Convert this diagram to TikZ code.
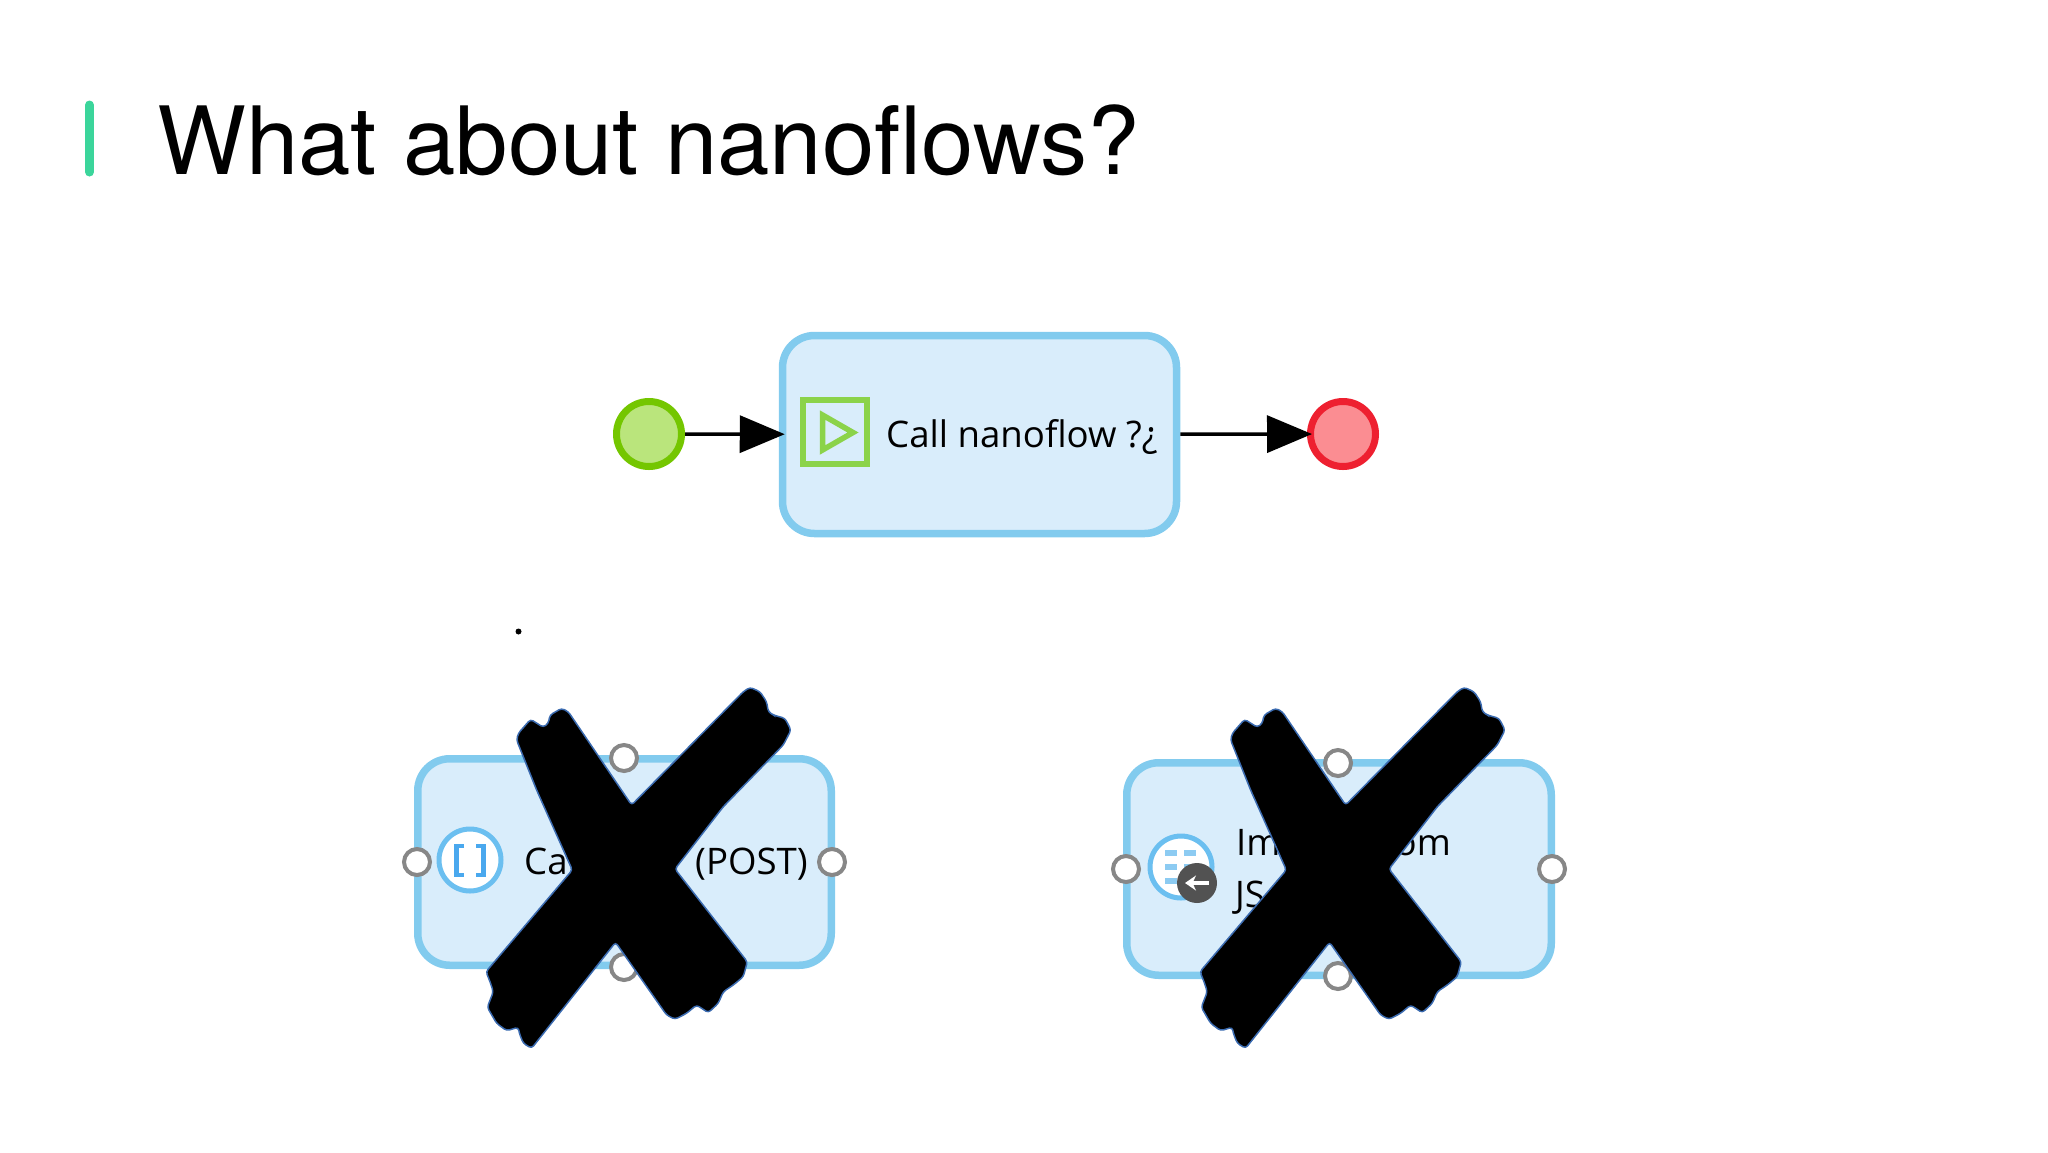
\documentclass[tikz,border=0pt]{standalone}
\usepackage{fontspec}
\setmainfont{TeX Gyre Heros}
\newfontfamily\boxfont{Open Sans}
\usetikzlibrary{arrows.meta}
\definecolor{barcol}{HTML}{3BD59B}
\definecolor{boxfill}{HTML}{D9EDFB}
\definecolor{boxline}{HTML}{82CBEE}
\definecolor{startfill}{HTML}{BAE57C}
\definecolor{startline}{HTML}{74C600}
\definecolor{endfill}{HTML}{FB8D92}
\definecolor{endline}{HTML}{EE2030}
\definecolor{iconline}{HTML}{8BD34A}
\definecolor{roundline}{HTML}{6BBFF0}
\definecolor{roundmark}{HTML}{4AA8EE}
\definecolor{tablemark}{HTML}{8CCBF2}
\definecolor{crossline}{HTML}{3B6BB0}
\tikzset{
  actbox/.style={draw=boxline,fill=boxfill,line width=7.5pt,rounded corners=32pt,inner sep=0pt},
  handle/.style={draw=black!47,fill=white,circle,line width=4pt,inner sep=0pt,minimum size=26pt},
  roundicon/.style={draw=roundline,fill=white,circle,line width=5pt,inner sep=0pt,minimum size=62pt},
  boxtext/.style={anchor=base west,inner sep=0pt,font=\boxfont\fontsize{36.6}{42}\selectfont},
  crossmark/.pic={
    \draw [fill=black,draw=crossline,line width=1.5pt,rounded corners=3pt]
      (7.3,-65) -- (119,-178.3) -- (125.7,-182.7) -- (135.7,-178.3) -- (142.3,-168.3) -- (144,-158.3)
      -- (149,-155) -- (160.7,-151.7) -- (166.7,-140) -- (159,-125) -- (99,-63.3) -- (50.7,-1)
      -- (123,91.7) -- (119,106.7) -- (109,115) -- (99,121.7) -- (94,133.3) -- (84,142.7)
      -- (72.3,135) -- (62.3,143.3) -- (50.7,149.3) -- (42.3,145) -- (-8.7,72.3)
      -- (-92.7,178.3) -- (-101,173.3) -- (-105,163.3) -- (-106,157.3) -- (-117.7,160.7)
      -- (-127.7,153.3) -- (-137,137.3) -- (-131,121.7) -- (-134.3,111.7) -- (-138.3,101.7)
      -- (-52,0) -- (-87.7,-80) -- (-107.7,-130) -- (-106,-136.7) -- (-93.7,-150.7) -- (-81,-142.7)
      -- (-76,-146.7) -- (-74.3,-155) -- (-62.7,-161.7) -- (-56,-158.3) -- cycle;
  }
}
\begin{document}
\begin{tikzpicture}[x=1pt,y=-1pt]
\def\l{45pt}
\def\w{37pt}
\useasboundingbox (0,0) rectangle (2048,1152);
\draw [barcol,line width=9pt,line cap=round] (89.5,105) -- (89.5,172);
\node [anchor=base west,inner sep=0pt,font=\fontsize{94.2}{110}\selectfont, name=title] at (157,174) {What about nanoflows?};
\node [draw=startline,fill=startfill,circle,line width=7pt,inner sep=0pt,minimum size=65pt, name=startev] at (649,434) {};
\node [draw=endline,fill=endfill,circle,line width=7pt,inner sep=0pt,minimum size=65pt, name=endev] at (1343,434) {};
\node [actbox,minimum width=394pt,minimum height=198pt, name=callbox] at (979.5,434.5) {};
\node [draw=iconline,fill=boxfill,line width=6pt,inner sep=0pt,minimum size=64pt, name=playicon] at (835,432) {};
\draw [iconline,line width=5.5pt,line join=miter] (822.5,415) -- (853,432.5) -- (822.5,450) -- cycle;
\node [boxtext, name=calltext] at (886,447) {Call nanoflow ?¿};
\draw [line width=3.5pt,shorten >=-6pt,-{Triangle[length=\l, width=\w]}](startev) to (callbox);
\draw [line width=3.5pt,shorten >=-5pt,-{Triangle[length=\l, width=\w]}](callbox) to (endev);
\node [fill=black,circle,inner sep=0pt,minimum size=6pt, name=dot] at (518.5,631.5) {};
% left box
\node [actbox,minimum width=413.5pt,minimum height=206.5pt, name=restbox] at (624.5,862) {};
\node [roundicon, name=resticon] at (470,860) {};
\draw [roundmark,line width=4.5pt] (464,846) -- (456.5,846) -- (456.5,875) -- (464,875);
\draw [roundmark,line width=4.5pt] (476,846) -- (483.5,846) -- (483.5,875) -- (476,875);
\node [boxtext, name=resta] at (524,874.5) {Ca};
\node [boxtext, name=restb] at (695,874.5) {(POST)};
\node [handle, name=restl] at (417,862) {};
\node [handle, name=restr] at (832,862) {};
\node [handle, name=restt] at (624,758) {};
\node [handle, name=restd] at (624,967) {};
\pic at (624.3,870) {crossmark};
% right box
\node [actbox,minimum width=424.5pt,minimum height=212.5pt, name=jsonbox] at (1339,869) {};
\node [roundicon, name=jsonicon] at (1181,867) {};
\foreach \y in {853,867,881}{
  \draw [tablemark,line width=6pt] (1165,\y) -- (1177,\y);
  \draw [tablemark,line width=6pt] (1184,\y) -- (1196,\y);
}
\node [fill=black!68,circle,inner sep=0pt,minimum size=40pt, name=jsonbadge] at (1197,883) {};
\draw [white,line width=4pt,-{Stealth[length=11pt, width=15pt]}] (1209,883) -- (1185,883);
\node [boxtext, name=jsona] at (1236,855.5) {Im};
\node [boxtext,anchor=base east, name=jsonb] at (1451,855.5) {om};
\node [boxtext, name=jsonc] at (1235,907) {JS};
\node [handle, name=jsonl] at (1126,869) {};
\node [handle, name=jsonr] at (1552,869) {};
\node [handle, name=jsont] at (1338,763) {};
\node [handle, name=jsond] at (1338,976) {};
\pic at (1338.3,870) {crossmark};
\end{tikzpicture}
\end{document}
